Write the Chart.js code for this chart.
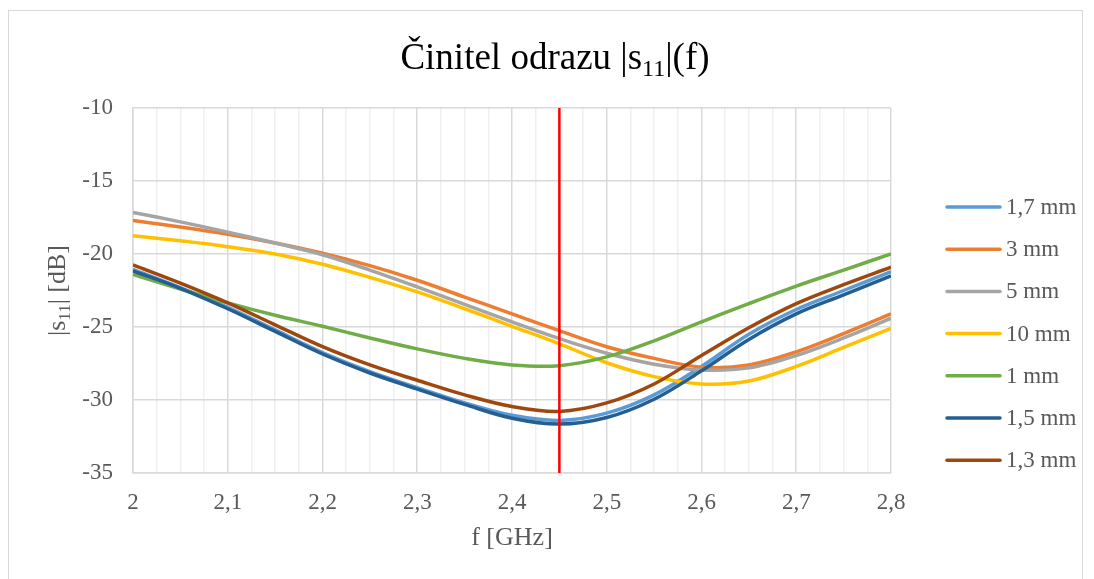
<!DOCTYPE html>
<html>
<head>
<meta charset="utf-8">
<title>Činitel odrazu</title>
<script src="https://cdn.jsdelivr.net/npm/chart.js@4/dist/chart.umd.min.js"></script>
<style>
  html, body { margin: 0; padding: 0; background: #fff; }
  #wrap { position: relative; width: 1094px; height: 579px; }
  #frame { position: absolute; left: 8px; top: 10px; width: 1075px; height: 580px; border: 1px solid #d9d9d9; box-sizing: border-box; }
  canvas { position: absolute; left: 0; top: 0; }
</style>
</head>
<body>
<div id="wrap">
  <div id="frame"></div>
  <canvas id="chart" width="1094" height="579"></canvas>
</div>
<script>
// frekvence [GHz]
var freq = [2.0, 2.05, 2.1, 2.15, 2.2, 2.25, 2.3, 2.35, 2.4, 2.45, 2.5, 2.55, 2.6, 2.65, 2.7, 2.75, 2.8];

// |s11| [dB] pro jednotlive vzdalenosti
var s_1_7 = [-21.05, -22.3, -23.65, -25.2, -26.75, -28.05, -29.15, -30.2, -31.05, -31.4, -30.9, -29.65, -27.7, -25.5, -23.8, -22.5, -21.2];
var s_3 = [-17.7, -18.15, -18.65, -19.25, -19.95, -20.8, -21.8, -22.95, -24.1, -25.25, -26.35, -27.15, -27.75, -27.6, -26.7, -25.45, -24.1];
var s_5 = [-17.15, -17.8, -18.5, -19.25, -20.05, -21.1, -22.25, -23.45, -24.65, -25.8, -26.8, -27.55, -27.95, -27.8, -26.95, -25.75, -24.4];
var s_10 = [-18.75, -19.1, -19.5, -20.0, -20.7, -21.6, -22.6, -23.75, -24.95, -26.15, -27.45, -28.4, -28.9, -28.7, -27.7, -26.4, -25.1];
var s_1 = [-21.4, -22.4, -23.35, -24.2, -24.95, -25.75, -26.5, -27.15, -27.6, -27.65, -27.05, -25.95, -24.65, -23.4, -22.2, -21.1, -20.0];
var s_1_5 = [-21.15, -22.35, -23.75, -25.3, -26.85, -28.15, -29.25, -30.3, -31.25, -31.65, -31.2, -29.95, -28.0, -25.85, -24.1, -22.8, -21.5];
var s_1_3 = [-20.75, -22.0, -23.35, -24.85, -26.35, -27.6, -28.65, -29.65, -30.45, -30.78, -30.2, -28.9, -26.95, -25.05, -23.4, -22.1, -20.9];

var seriesNames = ['1,7 mm', '3 mm', '5 mm', '10 mm', '1 mm', '1,5 mm', '1,3 mm'];
var seriesValues = [s_1_7, s_3, s_5, s_10, s_1, s_1_5, s_1_3];
var seriesColors = ['#5B9BD5', '#ED7D31', '#A5A5A5', '#FFC000', '#70AD47', '#255E91', '#9E480E'];

// svisla znacka na 2,45 GHz
var markerFreq = 2.45;
var markerRange = [-35, -10];

var FONT = '"Liberation Serif", "Times New Roman", serif';
var GREY = '#595959';

var datasets = seriesValues.map(function (vals, i) {
  return {
    label: seriesNames[i],
    data: vals.map(function (v, j) { return { x: freq[j], y: v }; }),
    borderColor: seriesColors[i],
    borderWidth: 3.5,
    pointRadius: 0,
    tension: 0.35,
    fill: false,
    order: 20 - i
  };
});
datasets.push({
  label: 'marker',
  data: markerRange.map(function (v) { return { x: markerFreq, y: v }; }),
  borderColor: '#FF0000',
  borderWidth: 2.5,
  pointRadius: 0,
  fill: false,
  order: 0
});

function isMajor(v) {
  return Math.abs(v * 10 - Math.round(v * 10)) < 1e-6;
}

// texty s dolnim indexem (titulek, popisek osy y) a vlastni legenda
var textPlugin = {
  id: 'texts',
  afterDraw: function (chart) {
    var ctx = chart.ctx;
    var area = chart.chartArea;

    function drawParts(parts, size, x, y, align) {
      var sub = Math.round(size * 0.65);
      var w = 0;
      parts.forEach(function (p) {
        ctx.font = (p.sub ? sub : size) + 'px ' + FONT;
        w += ctx.measureText(p.t).width;
      });
      var cx = align === 'center' ? x - w / 2 : x;
      parts.forEach(function (p) {
        ctx.font = (p.sub ? sub : size) + 'px ' + FONT;
        ctx.fillText(p.t, cx, p.sub ? y + size * 0.2 : y);
        cx += ctx.measureText(p.t).width;
      });
    }

    ctx.save();
    ctx.textBaseline = 'alphabetic';
    ctx.textAlign = 'left';

    // titulek
    ctx.fillStyle = '#000';
    drawParts([{ t: 'Činitel odrazu |s' }, { t: '11', sub: true }, { t: '|(f)' }], 37, 555, 69, 'center');

    // popisek osy x
    ctx.fillStyle = GREY;
    ctx.font = '26px ' + FONT;
    ctx.textAlign = 'center';
    ctx.fillText('f [GHz]', (area.left + area.right) / 2, 545);
    ctx.textAlign = 'left';

    // popisek osy y
    ctx.save();
    ctx.translate(65, (area.top + area.bottom) / 2);
    ctx.rotate(-Math.PI / 2);
    drawParts([{ t: '|s' }, { t: '11', sub: true }, { t: '| [dB]' }], 26, 0, 0, 'center');
    ctx.restore();

    // legenda
    ctx.textBaseline = 'middle';
    ctx.font = '23px ' + FONT;
    ctx.lineCap = 'round';
    seriesNames.forEach(function (name, i) {
      var y = 207 + i * 42.2;
      ctx.strokeStyle = seriesColors[i];
      ctx.lineWidth = 3.5;
      ctx.beginPath();
      ctx.moveTo(947, y);
      ctx.lineTo(1000, y);
      ctx.stroke();
      ctx.fillStyle = GREY;
      ctx.fillText(name, 1006, y + 1);
    });
    ctx.restore();
  }
};

new Chart(document.getElementById('chart'), {
  type: 'line',
  data: { datasets: datasets },
  options: {
    responsive: false,
    animation: false,
    layout: { padding: { left: 0, top: 108, right: 203, bottom: 0 } },
    plugins: {
      legend: { display: false },
      title: { display: false },
      tooltip: { enabled: false }
    },
    scales: {
      x: {
        type: 'linear',
        min: 2,
        max: 2.8,
        afterFit: function (scale) { scale.height = 106; },
        ticks: {
          stepSize: 0.025,
          autoSkip: false,
          maxRotation: 0,
          padding: 16,
          color: GREY,
          font: { family: FONT, size: 23 },
          callback: function (v) {
            return isMajor(v) ? String(Math.round(v * 10) / 10).replace('.', ',') : '';
          }
        },
        grid: {
          drawTicks: false,
          lineWidth: 1.5,
          color: function (c) {
            return isMajor(c.tick.value) ? '#d9d9d9' : '#efefef';
          }
        },
        border: { display: true, color: '#d9d9d9', width: 1.5 }
      },
      y: {
        min: -35,
        max: -10,
        afterFit: function (scale) { scale.width = 133; },
        ticks: {
          stepSize: 5,
          padding: 20,
          color: GREY,
          font: { family: FONT, size: 23 }
        },
        grid: { drawTicks: false, lineWidth: 1.5, color: '#d9d9d9' },
        border: { display: true, color: '#d9d9d9', width: 1.5 }
      }
    }
  },
  plugins: [textPlugin]
});
</script>
</body>
</html>
